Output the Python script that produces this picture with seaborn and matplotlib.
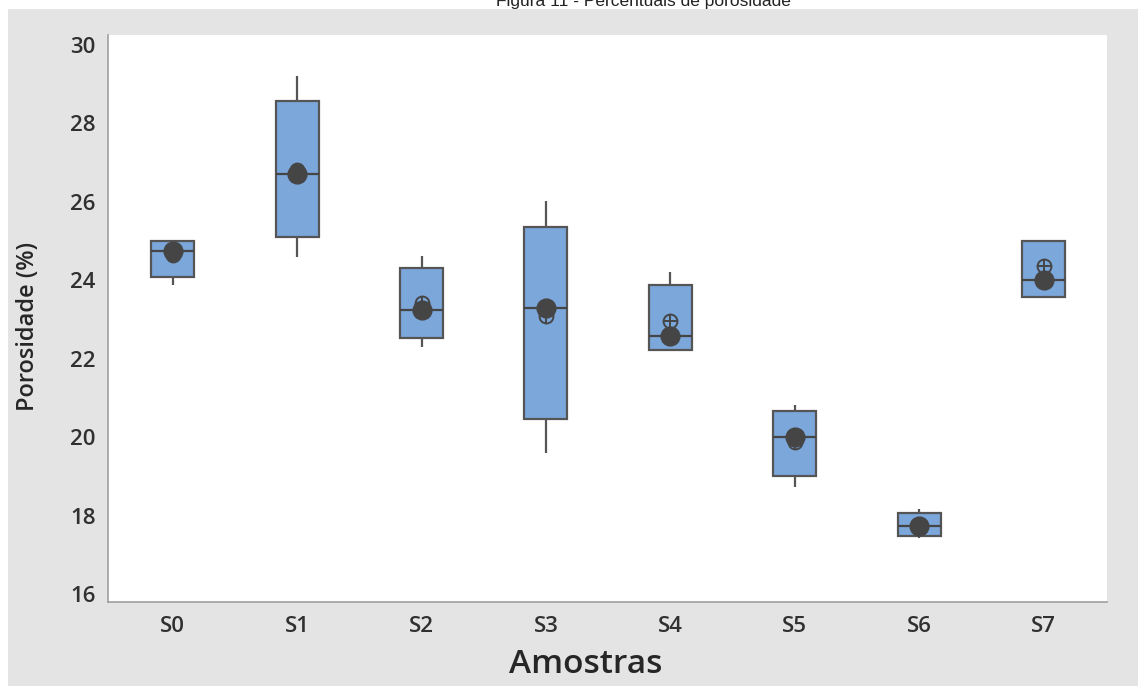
import numpy as np
import pandas as pd
import matplotlib
matplotlib.use("Agg")
import matplotlib.pyplot as plt
from matplotlib.patches import Rectangle
from matplotlib.ticker import MultipleLocator
import seaborn as sns

# valores (Minitab boxplot)
amostras = ["S0", "S1", "S2", "S3", "S4", "S5", "S6", "S7"]
minimos = [23.88, 24.60, 22.31, 19.59, 22.22, 18.74, 17.43, 23.58]
q1 = [24.08, 25.11, 22.52, 20.46, 22.22, 19.01, 17.49, 23.58]
medianas = [24.76, 26.71, 23.24, 23.29, 22.58, 20.01, 17.74, 24.01]
q3 = [25.01, 28.58, 24.31, 25.35, 23.88, 20.67, 18.06, 25.01]
maximos = [25.01, 29.21, 24.62, 26.03, 24.21, 20.82, 18.17, 25.01]
medias = [24.65, 26.82, 23.43, 23.09, 22.97, 19.88, 17.75, 24.37]

# tabela longa: 5 valores por amostra reproduzem os quartis
linhas = []
for i, a in enumerate(amostras):
    for v in (minimos[i], q1[i], medianas[i], q3[i], maximos[i]):
        linhas.append({"Amostras": a, "Porosidade": v})
df = pd.DataFrame(linhas)
df_media = pd.DataFrame({"Amostras": amostras, "Porosidade": medias})

sns.set_style("white")
plt.rcParams["font.family"] = ["Open Sans", "DejaVu Sans"]

W, H = 1138, 686
fig = plt.figure(figsize=(W / 100, H / 100), dpi=100)
fig.patch.set_facecolor("white")

# título (cortado no topo, como na figura original) + moldura cinza
fig.text(643 / W, 1 - 6 / H, "Figura 11 - Percentuais de porosidade",
         ha="center", va="baseline", fontsize=12.5,
         family=["Liberation Sans", "DejaVu Sans"], color="#222222", zorder=0)
fig.patches.append(Rectangle((8 / W, 0), 1 - 8 / W, 1 - 9 / H,
                             transform=fig.transFigure, facecolor="#e4e4e4",
                             edgecolor="none", zorder=1))

ax = fig.add_axes([108 / W, 84 / H, (1107 - 108) / W, (602 - 35) / H], zorder=2)
ax.set_facecolor("white")

cor_linha = "#555555"
sns.boxplot(data=df, x="Amostras", y="Porosidade", order=amostras, ax=ax,
            color="#7ba7da", saturation=1, width=0.345, whis=(0, 100),
            showcaps=False, showfliers=False, linewidth=1.6,
            linecolor=cor_linha,
            medianprops={"color": "#454545", "linewidth": 1.6})

# média: círculo com cruz
sns.pointplot(data=df_media, x="Amostras", y="Porosidade",
              order=amostras, ax=ax, errorbar=None, linestyle="none",
              marker="o", markersize=10, markerfacecolor="none",
              markeredgecolor="#454545", markeredgewidth=1.4, color="#454545")
sns.pointplot(data=df_media, x="Amostras", y="Porosidade",
              order=amostras, ax=ax, errorbar=None, linestyle="none",
              marker="+", markersize=10, markeredgewidth=1.4, color="#454545")
# mediana: círculo cheio
sns.pointplot(data=df, x="Amostras", y="Porosidade", order=amostras, ax=ax,
              estimator="median", errorbar=None, linestyle="none",
              marker="o", markersize=12.5, color="#454545")

ax.set_xlim(-0.52, 7.51)
ax.set_ylim(15.80, 30.255)
ax.yaxis.set_major_locator(MultipleLocator(2))
ax.yaxis.set_minor_locator(MultipleLocator(1))

for s in ["top", "right"]:
    ax.spines[s].set_visible(False)
for s in ["left", "bottom"]:
    ax.spines[s].set_color("#a0a0a0")
    ax.spines[s].set_linewidth(1.2)

ax.tick_params(axis="both", which="both", direction="out", color="#a0a0a0",
               labelcolor="#303030", labelsize=16, width=1)
ax.tick_params(axis="y", which="major", length=5, pad=4)
ax.tick_params(axis="y", which="minor", length=4)
ax.tick_params(axis="x", length=5, pad=5)
for lab in ax.get_xticklabels() + ax.get_yticklabels():
    lab.set_fontweight("semibold")

ax.set_xlabel("Amostras", fontsize=24, fontweight="semibold", color="#262626")
ax.xaxis.set_label_coords((586 - 108) / 999, -46 / 567)
ax.set_ylabel("Porosidade (%)", fontsize=17, fontweight="semibold",
              color="#262626")
ax.yaxis.set_label_coords((40 - 108) / 999, (594 - 318) / 567)

fig.savefig("out.png", dpi=100, facecolor="white")
